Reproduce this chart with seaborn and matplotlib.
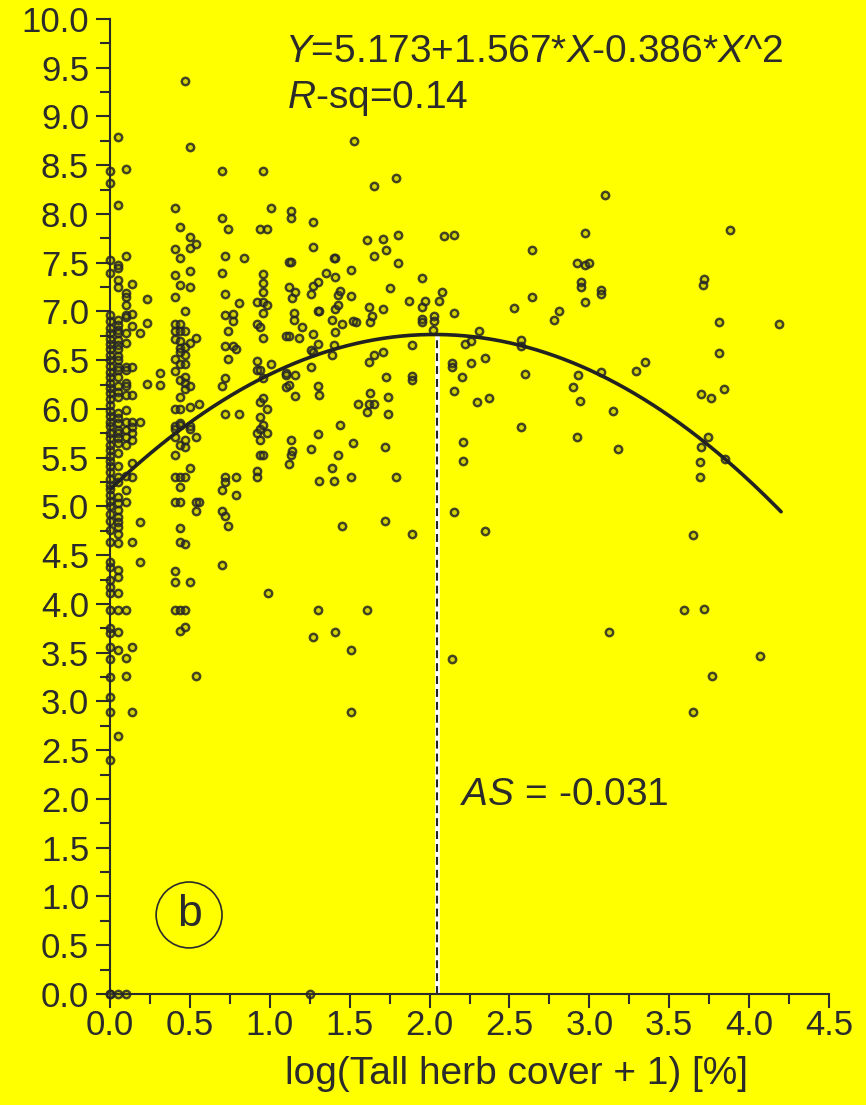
import numpy as np
import pandas as pd
import matplotlib
matplotlib.use("Agg")
import matplotlib.pyplot as plt
import seaborn as sns
from matplotlib.ticker import MultipleLocator, FormatStrFormatter

# ---------------- data ----------------
# dense columns near the origin (x value, list of y values)
col_000 = [0.0, 0.0, 2.40, 2.89, 3.05, 3.25, 3.44, 3.56, 3.70, 3.75, 3.94, 4.11, 4.17,
           4.25, 4.38, 4.43, 4.63, 4.76, 4.85, 4.92, 5.00, 5.06, 5.12, 5.18, 5.22, 5.28,
           5.35, 5.41, 5.47, 5.52, 5.58, 5.63, 5.70, 5.75, 5.82, 5.87, 5.93, 5.98, 6.04,
           6.10, 6.16, 6.21, 6.27, 6.33, 6.38, 6.44, 6.50, 6.55, 6.61, 6.67, 6.72, 6.78,
           6.83, 6.90, 6.96, 7.39, 7.53, 8.32, 8.44]
col_005 = [8.79, 8.09, 7.48, 7.45, 7.32, 7.25, 6.91, 6.86, 6.81, 6.78, 6.71, 6.66, 6.61,
           6.54, 6.50, 6.43, 6.40, 6.33, 6.23, 6.17, 6.12, 5.96, 5.91, 5.86, 5.78, 5.75,
           5.70, 5.65, 5.55, 5.41, 5.30, 5.25, 5.10, 5.04, 4.96, 4.89, 4.84, 4.79, 4.72,
           4.62, 4.35, 4.28, 4.11, 3.94, 3.71, 3.53, 2.65, 0.0]
col_010 = [8.46, 7.57, 7.19, 7.15, 7.07, 6.96, 6.94, 6.78, 6.68, 6.43, 6.40, 6.27, 6.23,
           6.14, 5.99, 5.87, 5.78, 5.71, 5.63, 5.31, 5.17, 5.05, 3.94, 3.45, 3.26, 0.0]
col_014 = [7.28, 6.97, 6.85, 6.43, 6.14, 5.87, 5.81, 5.75, 5.68, 5.45, 5.30, 4.63, 3.56, 2.89]
col_019 = [6.78, 5.87, 4.84, 4.43]
col_023 = [7.13, 6.88, 6.26]
col_031 = [6.37, 6.25]
col_041 = [8.06, 7.64, 7.37, 7.15, 6.87, 6.80, 6.72, 6.51, 6.39, 6.00, 5.82, 5.79, 5.71,
           5.53, 5.30, 5.05, 4.34, 4.23, 3.94]
col_044 = [7.87, 7.55, 7.27, 6.87, 6.80, 6.70, 6.62, 6.58, 6.46, 6.30, 6.12, 6.00, 5.86,
           5.84, 5.63, 5.30, 5.20, 5.05, 4.78, 4.63, 3.94, 3.72]
col_047 = [9.36, 7.00, 6.80, 6.63, 6.55, 6.46, 6.33, 6.27, 6.20, 5.68, 5.61, 5.30, 4.61,
           3.94, 3.76]
col_050 = [8.69, 7.76, 7.65, 7.41, 7.25, 6.68, 6.24, 6.02, 5.82, 5.79, 5.39, 4.23]
col_054 = [7.69, 6.73, 5.71, 5.05, 4.95, 3.26]
col_056 = [6.05, 5.05]

column_x = [0.0, 0.05, 0.10, 0.14, 0.19, 0.23, 0.31, 0.41, 0.44, 0.47, 0.50, 0.54, 0.56]
column_y = [col_000, col_005, col_010, col_014, col_019, col_023, col_031, col_041,
            col_044, col_047, col_050, col_054, col_056]

# scattered observations (x, y)
pts_low = [(0.70, 8.44), (0.70, 7.96), (0.70, 7.39), (0.70, 6.23), (0.70, 5.17), (0.70, 4.95),
           (0.70, 4.40), (0.72, 7.57), (0.72, 7.18), (0.72, 6.96), (0.72, 6.65), (0.72, 6.32),
           (0.72, 5.95), (0.72, 5.30), (0.72, 5.25), (0.72, 4.90), (0.74, 7.85), (0.74, 6.80),
           (0.74, 6.51), (0.74, 4.80), (0.77, 6.97), (0.77, 6.90), (0.77, 6.65), (0.79, 6.61),
           (0.79, 5.30), (0.79, 5.12), (0.81, 7.09), (0.81, 5.95), (0.84, 7.55),
           (0.92, 7.10), (0.92, 6.87), (0.92, 6.49), (0.92, 6.40), (0.92, 5.75), (0.92, 5.36),
           (0.92, 5.30), (0.94, 7.85), (0.94, 6.84), (0.94, 6.40), (0.94, 6.07), (0.94, 5.92),
           (0.94, 5.79), (0.94, 5.68), (0.94, 5.53), (0.96, 8.44), (0.96, 7.38), (0.96, 7.29),
           (0.96, 7.20), (0.96, 7.10), (0.96, 6.98), (0.96, 6.73), (0.96, 6.32), (0.96, 6.11),
           (0.96, 5.83), (0.96, 5.53), (0.98, 7.85), (0.98, 7.07), (0.98, 6.00),
           (0.98, 5.75), (0.99, 4.11), (1.01, 8.06), (1.01, 6.46), (1.10, 6.75), (1.10, 6.37),
           (1.10, 6.35), (1.10, 6.22), (1.12, 7.51), (1.12, 7.25), (1.12, 6.75), (1.12, 6.25),
           (1.12, 5.43), (1.13, 8.03), (1.13, 7.96), (1.13, 7.51), (1.13, 5.68), (1.13, 5.53),
           (1.14, 7.14), (1.14, 5.57), (1.15, 6.98), (1.15, 6.91), (1.16, 7.20), (1.16, 6.35),
           (1.16, 6.13), (1.18, 6.73)]
pts_mid = [(1.20, 6.84), (1.25, 0.0), (1.26, 7.18), (1.26, 6.60), (1.26, 6.43), (1.26, 5.59),
           (1.27, 7.92), (1.27, 7.66), (1.27, 7.26), (1.27, 6.77), (1.27, 6.58), (1.27, 3.66),
           (1.30, 7.30), (1.30, 7.00), (1.30, 6.67), (1.30, 6.23), (1.30, 5.74), (1.30, 3.94),
           (1.31, 7.00), (1.31, 6.14), (1.31, 5.26), (1.35, 7.39), (1.39, 6.91), (1.39, 6.55),
           (1.39, 5.39), (1.40, 7.55), (1.40, 6.66), (1.40, 5.26), (1.41, 7.55), (1.41, 7.35),
           (1.41, 7.02), (1.41, 6.79), (1.41, 3.71), (1.43, 7.17), (1.43, 7.07), (1.43, 5.53),
           (1.44, 7.21), (1.44, 5.84), (1.45, 6.87), (1.45, 4.80), (1.51, 7.42), (1.51, 7.16),
           (1.51, 5.30), (1.51, 3.53), (1.51, 2.89), (1.52, 6.90), (1.52, 5.65), (1.53, 8.75),
           (1.54, 6.89), (1.55, 6.05), (1.61, 7.73), (1.61, 5.97), (1.61, 3.94), (1.62, 7.05),
           (1.62, 6.48), (1.62, 6.05), (1.63, 6.89), (1.63, 6.16), (1.64, 6.95), (1.65, 8.29),
           (1.65, 7.57), (1.65, 6.55), (1.65, 6.05), (1.71, 7.74), (1.71, 7.02), (1.71, 6.58),
           (1.72, 5.61), (1.72, 4.85), (1.73, 7.63), (1.73, 6.33), (1.74, 6.12), (1.74, 5.95),
           (1.75, 7.24), (1.79, 8.37), (1.79, 5.30), (1.80, 7.78), (1.80, 7.50), (1.87, 7.11),
           (1.89, 6.66), (1.89, 6.34), (1.89, 6.30), (1.89, 4.72), (1.95, 7.34), (1.95, 7.05),
           (1.95, 6.92), (1.95, 6.89), (1.97, 7.11), (2.02, 6.81), (2.03, 6.95), (2.03, 6.90),
           (2.06, 7.11), (2.08, 7.20), (2.09, 7.77)]
pts_high = [(2.14, 6.47), (2.14, 6.43), (2.14, 3.44), (2.15, 7.78), (2.15, 6.98), (2.15, 6.18),
            (2.15, 4.94), (2.20, 6.33), (2.21, 5.66), (2.21, 5.47), (2.22, 6.67), (2.26, 6.70),
            (2.26, 6.47), (2.30, 6.07), (2.31, 6.80), (2.35, 6.52), (2.35, 4.75), (2.37, 6.11),
            (2.53, 7.03), (2.57, 6.71), (2.57, 6.65), (2.57, 5.81), (2.60, 6.36), (2.64, 7.63),
            (2.64, 7.15), (2.78, 6.91), (2.81, 7.00), (2.90, 6.22), (2.92, 7.50), (2.92, 5.71),
            (2.93, 6.35), (2.94, 6.08), (2.95, 7.30), (2.95, 7.25), (2.97, 7.80), (2.97, 7.48),
            (2.97, 7.10), (3.00, 7.50), (3.07, 7.22), (3.07, 7.18), (3.07, 6.38), (3.10, 8.19),
            (3.12, 3.71), (3.15, 5.98), (3.18, 5.59), (3.29, 6.39), (3.35, 6.48), (3.59, 3.94),
            (3.65, 4.71), (3.65, 2.89), (3.69, 5.46), (3.69, 5.30), (3.70, 6.15), (3.70, 5.61),
            (3.71, 7.27), (3.72, 7.33), (3.72, 3.95), (3.74, 5.71), (3.76, 6.11), (3.77, 3.26),
            (3.81, 6.89), (3.81, 6.57), (3.84, 6.20), (3.85, 5.49), (3.88, 7.83), (4.07, 3.47),
            (4.19, 6.87)]

# fitted quadratic (from the printed equation)
coef = [5.173, 1.567, -0.386]
fit_xmax = 4.2
as_x = 2.045   # position of the dashed line
eq_text = "$Y$=5.173+1.567*$X$-0.386*$X$^2"
rsq_text = "$R$-sq=0.14"
as_text = "$AS$ = -0.031"
panel_label = "b"
x_label = "log(Tall herb cover + 1) [%]"

# ---------------- table ----------------
rows = []
for xv, ys in zip(column_x, column_y):
    rows += [(xv, yv) for yv in ys]
rows += pts_low + pts_mid + pts_high
df = pd.DataFrame(rows, columns=["x", "y"])

# ---------------- style ----------------
sns.set_theme(style="ticks")
plt.rcParams["font.family"] = ["Liberation Sans", "DejaVu Sans"]
plt.rcParams["mathtext.fontset"] = "custom"
plt.rcParams["mathtext.rm"] = "Liberation Sans"
plt.rcParams["mathtext.it"] = "Liberation Sans:italic"

INK = "#2b2b2b"
BG = "#ffff00"

fig = plt.figure(figsize=(8.66, 11.05), dpi=100, facecolor=BG)
ax = fig.add_axes([0.1270, 0.1005, 0.8303, 0.8824])
ax.set_facecolor(BG)

sns.scatterplot(data=df, x="x", y="y", ax=ax, marker="o", s=28,
                facecolor=(0.35, 0.35, 0.1, 0.25), edgecolor=(0.15, 0.15, 0.15, 0.85),
                linewidth=1.75, clip_on=False, zorder=3)

xs = np.linspace(0, fit_xmax, 300)
ys = coef[0] + coef[1] * xs + coef[2] * xs ** 2
sns.lineplot(x=xs, y=ys, ax=ax, color="#222222", linewidth=2.6, zorder=4)

yv = coef[0] + coef[1] * as_x + coef[2] * as_x ** 2
ax.plot([as_x, as_x], [0, yv], color="white", linewidth=3.4, zorder=2, solid_capstyle="butt")
ax.plot([as_x, as_x], [0, yv], color="#222222", linewidth=1.5, dashes=(3.8, 2.4), zorder=2)

ax.set_xlim(0, 4.5)
ax.set_ylim(0, 10)
ax.xaxis.set_major_locator(MultipleLocator(0.5))
ax.xaxis.set_minor_locator(MultipleLocator(0.25))
ax.yaxis.set_major_locator(MultipleLocator(0.5))
ax.yaxis.set_minor_locator(MultipleLocator(0.25))
ax.xaxis.set_major_formatter(FormatStrFormatter("%.1f"))
ax.yaxis.set_major_formatter(FormatStrFormatter("%.1f"))

for side in ["top", "right"]:
    ax.spines[side].set_visible(False)
for side in ["left", "bottom"]:
    ax.spines[side].set_color(INK)
    ax.spines[side].set_linewidth(1.5)

ax.tick_params(axis="both", which="major", length=10, width=1.5, color=INK,
               labelsize=25, labelcolor=INK, direction="out")
ax.tick_params(axis="both", which="minor", length=7, width=1.5, color=INK, direction="out")
ax.tick_params(axis="y", which="major", pad=5)
ax.tick_params(axis="x", which="major", pad=1)

ax.set_xlabel(x_label, fontsize=28, color=INK)
ax.set_ylabel("")
ax.xaxis.set_label_coords(0.565, -0.064)

ax.text(0.2434, 0.9559, eq_text, transform=ax.transAxes, fontsize=28, color=INK,
        ha="left", va="baseline")
ax.text(0.2462, 0.9087, rsq_text, transform=ax.transAxes, fontsize=28, color=INK,
        ha="left", va="baseline")
ax.text(0.4868, 0.1938, as_text, transform=ax.transAxes, fontsize=28, color=INK,
        ha="left", va="baseline")
ax.text(0.110, 0.081, panel_label, transform=ax.transAxes, fontsize=32, color=INK,
        ha="center", va="center",
        bbox=dict(boxstyle="circle,pad=0.28", facecolor="none", edgecolor=INK, linewidth=1.2))

fig.savefig("out.png", dpi=100, facecolor=BG)
